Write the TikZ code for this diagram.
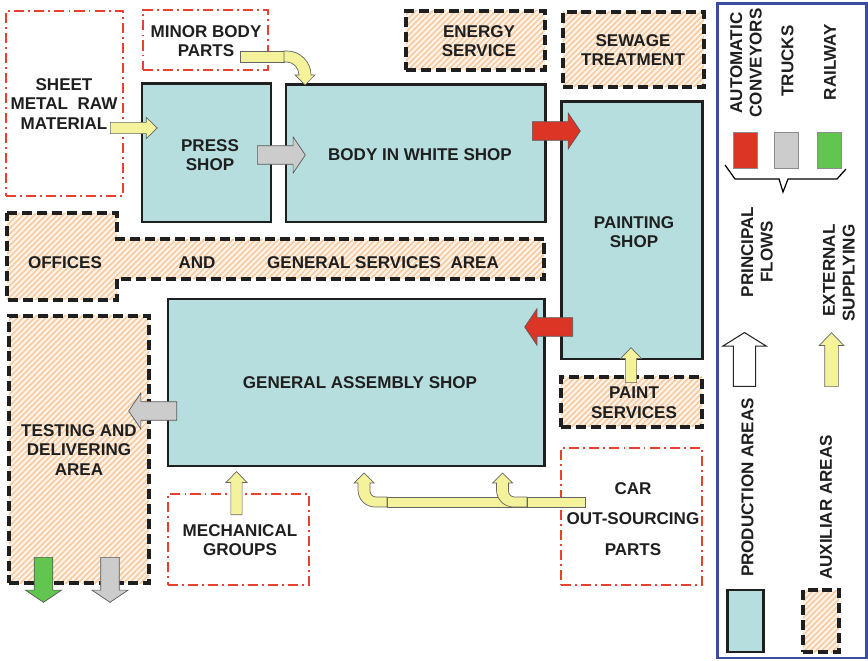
\documentclass[tikz,border=0pt]{standalone}
\usepackage{fontspec}
\setmainfont{Liberation Sans}
\usetikzlibrary{fit,shapes.arrows,patterns.meta}

\definecolor{shopteal}{HTML}{B7DEDF}
\definecolor{hatchorange}{HTML}{F7CBA2}
\definecolor{hatchcream}{HTML}{FDF3E8}
\definecolor{supplyred}{HTML}{E8402F}
\definecolor{flowred}{HTML}{DC3526}
\definecolor{flowgray}{HTML}{CCCCCC}
\definecolor{flowgreen}{HTML}{62C54F}
\definecolor{supplyyellow}{HTML}{F4F29A}
\definecolor{legendblue}{HTML}{3A4DA3}

\begin{document}
\begin{tikzpicture}
[
	x=0.02cm, y=-0.02cm,
	every node/.style={font=\fontsize{9.7}{11.2}\selectfont\bfseries, align=center, text=black!88},
	prodarea/.style={draw=black!88, line width=1.7pt, fill=shopteal, inner sep=0pt},
	auxarea/.style={draw=black!88, line width=1.8pt, dash pattern=on 5.7pt off 2.8pt, preaction={fill=hatchcream}, pattern={Lines[angle=45,distance=2.3pt,line width=0.9pt]}, pattern color=hatchorange, inner sep=0pt},
	supplier/.style={draw=supplyred, line width=1.1pt, dash pattern=on 5.7pt off 2.3pt on 1.1pt off 2.3pt, inner sep=0pt},
	flowarrow/.style={single arrow, draw=black!65, line width=0.4pt, inner xsep=0pt, inner ysep=5.1pt, single arrow head extend=5pt, single arrow tip angle=112, minimum height=27.3pt, anchor=tail},
	supplyarrow/.style={single arrow, draw=black!60, fill=supplyyellow, line width=0.4pt, inner xsep=0pt, inner ysep=3pt, single arrow head extend=2.8pt, single arrow tip angle=88, anchor=tail},
	supplyline/.style={draw=black!60, fill=supplyyellow, line width=0.4pt}
]

	\useasboundingbox (0,0) rectangle (868,661);

	% external suppliers
	\node[supplier, fit={(6,11) (123,196)}] (sheet) {};
	\node[supplier, fit={(143,10) (268,70)}] (minor) {};
	\node[supplier, fit={(168,494) (309,585)}] (mechanical) {};
	\node[supplier, fit={(561,448) (702,585)}] (outsourcing) {};
	\node (sheet-text) at (64,104) {SHEET\\METAL\ \ RAW\\MATERIAL};
	\node (minor-text) at (206,41) {MINOR BODY\\PARTS};
	\node (mechanical-text) at (240,540) {MECHANICAL\\GROUPS};
	\node (outsourcing-text) at (633,519) {CAR\\[6pt]OUT-SOURCING\\[6pt]PARTS};

	% auxiliar areas
	\node[auxarea, fit={(406,11) (545,70)}] (energy) {};
	\node[auxarea, fit={(563,12) (704,87)}] (sewage) {};
	\node[auxarea, fit={(561,377) (702,427)}] (paintserv) {};
	\node[auxarea, fit={(9,316) (149,583)}] (testing) {};
	\draw[auxarea] (7,213) -- (117,213) -- (117,239) -- (544,239) -- (544,279)
		-- (117,279) -- (117,300) -- (7,300) -- cycle;
	\node (energy-text) at (479,41) {ENERGY\\SERVICE};
	\node (sewage-text) at (633,50) {SEWAGE\\TREATMENT};
	\node (paintserv-text) at (634,403) {PAINT\\SERVICES};
	\node (testing-text) at (79,450) {TESTING AND\\DELIVERING\\AREA};
	\node (offices) at (65,263) {OFFICES};
	\node (and) at (197,263) {AND};
	\node (services) at (383,263) {GENERAL SERVICES\ \ AREA};

	% production areas
	\node[prodarea, fit={(142,84) (271,222)}] (press) {};
	\node[prodarea, fit={(286,85) (545,222)}] (biw) {};
	\node[prodarea, fit={(561,102) (702,359)}] (painting) {};
	\node[prodarea, fit={(168,299) (544,466)}] (assembly) {};
	\node (press-text) at (210,155) {PRESS\\SHOP};
	\node (biw-text) at (420,155) {BODY IN WHITE SHOP};
	\node (painting-text) at (634,232) {PAINTING\\SHOP};
	\node (assembly-text) at (360,383) {GENERAL ASSEMBLY SHOP};

	% principal flows
	\node[flowarrow, fill=flowgray] (press2biw) at (257,155) {};
	\node[flowarrow, fill=flowred] (biw2paint) at (532,131) {};
	\node[flowarrow, fill=flowred, rotate=180] (paint2assembly) at (573,327) {};
	\node[flowarrow, fill=flowgray, rotate=180] (assembly2testing) at (177,411) {};
	\node[flowarrow, fill=flowgreen, rotate=-90, minimum height=25.6pt] (railout) at (43.5,557) {};
	\node[flowarrow, fill=flowgray, rotate=-90, minimum height=25.6pt] (truckout) at (110,557) {};

	% external supplying
	\node[supplyarrow, minimum height=26.7pt] (sheet2press) at (110,128) {};
	\node[supplyarrow, rotate=90, minimum height=19.9pt] (serv2paint) at (631,383) {};
	\node[supplyarrow, rotate=90, minimum height=24.5pt] (mech2assembly) at (236.5,515) {};
	\draw[supplyline] (240,51) rectangle (284,62);
	\draw[supplyline] (284,51) -- (287,51) .. controls (300.2,51) and (311,61.8) .. (311,75)
		-- (315,75) -- (305,85) -- (295,75) -- (299,75)
		.. controls (299,68.4) and (293.6,62) .. (287,62) -- (284,62) -- cycle;
	\draw[supplyline] (387,497) rectangle (527,507);
	\foreach \xc/\xe in {364/387, 502.5/527} {
		\draw[supplyline] ({\xc-6},483) -- ({\xc-6},490)
			.. controls ({\xc-6},499.4) and ({\xc+1.6},507) .. ({\xc+11},507)
			-- (\xe,507) -- (\xe,497) -- ({\xc+12},497)
			.. controls ({\xc+8.7},497) and ({\xc+6},494.3) .. ({\xc+6},491)
			-- ({\xc+6},483) -- ({\xc+10},483) -- (\xc,473) -- ({\xc-10},483) -- cycle;
	}
	\draw[supplyline] (527,497) rectangle (585,507);

	% legend
	\draw[legendblue, line width=1.7pt] (717,4) rectangle (866,658);
	\node[rotate=90] (conveyors) at (746,63) {AUTOMATIC\\CONVEYORS};
	\node[rotate=90] (trucks) at (787.5,61) {TRUCKS};
	\node[rotate=90] (railway) at (830,62) {RAILWAY};
	\foreach \xl/\col in {733/flowred, 774/flowgray, 817/flowgreen} {
		\draw[draw=black!45, fill=\col, line width=0.4pt] (\xl,132) rectangle ({\xl+24},168);
	}
	\draw[line width=0.7pt] (725,165) -- (735,179) -- (779,179) -- (783,192) -- (788,179)
		-- (837,179) -- (846,169);
	\node[rotate=90] (principal) at (757,252) {PRINCIPAL\\FLOWS};
	\node[rotate=90, align=right] (external) at (839,273) {EXTERNAL\\SUPPLYING};
	\node[single arrow, draw=black!85, fill=white, line width=0.6pt, inner xsep=0pt, inner ysep=6pt,
		single arrow head extend=6pt, single arrow tip angle=116, minimum height=30.7pt,
		anchor=tail, rotate=90] (principalkey) at (744.5,387) {};
	\node[supplyarrow, inner ysep=3.7pt, single arrow head extend=3.1pt, rotate=90,
		minimum height=30.7pt] (externalkey) at (831.5,387) {};
	\node[rotate=90] (prodlabel) at (747.5,487.5) {PRODUCTION AREAS};
	\node[rotate=90] (auxlabel) at (826,507.5) {AUXILIAR AREAS};
	\node[prodarea, fit={(727,590) (763,652)}] (prodkey) {};
	\node[auxarea, fit={(803,590) (839,652)}] (auxkey) {};

\end{tikzpicture}
\end{document}
